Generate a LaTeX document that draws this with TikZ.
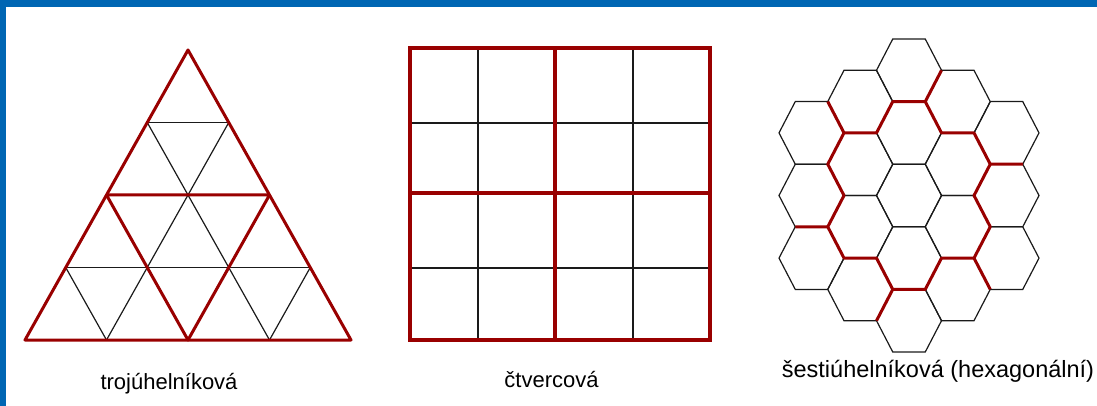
\documentclass[tikz,border=0pt]{standalone}
\usepackage{fontspec}
\setmainfont{Liberation Sans}
\usepackage{tikz}
\usetikzlibrary{calc}
\definecolor{framefill}{HTML}{0066B3}
\definecolor{gridred}{HTML}{990000}
\definecolor{gridblack}{HTML}{1A1A1A}
\tikzset{
    fineline/.style={
        draw=gridblack, line width=1.2pt
    },
    coarseline/.style={
        draw=gridred, line width=#1, line join=round
    },
    coarseline/.default=3pt,
    gridlabel/.style={
        font=\fontsize{22}{26}\selectfont, text=black, anchor=base, inner sep=0pt
    },
}

\begin{document}
\begin{tikzpicture}[x=1pt, y=-1pt]

    \useasboundingbox (0,0) rectangle (1097,406);

    % ── Frame ──
    \fill[framefill] (0,0) rectangle (1097,7);
    \fill[framefill] (0,0) rectangle (6,406);

    % ── Triangular grid ──
    \begin{scope}[shift={(25,340)}, x=40.75pt, y=72.5pt]
        \foreach \k in {1,2,3}
            \draw[fineline] (\k,\k) -- ({8-\k},\k);
        \foreach \i in {0,...,3}
            \draw[fineline] ({2*\i},0) -- ({4+\i},{4-\i});
        \foreach \i in {1,...,4}
            \draw[fineline] ({2*\i},0) -- (\i,\i);
        \draw[coarseline] (0,0) -- (8,0) -- (4,4) -- cycle;
        \draw[coarseline] (2,2) -- (6,2) (2,2) -- (4,0) -- (6,2);
    \end{scope}
    \node[gridlabel] (lbltri) at (169,389) {trojúhelníková};

    % ── Square grid ──
    \foreach \gx in {478,633}
        \draw[fineline] (\gx,48) -- (\gx,340);
    \foreach \gy in {123,268}
        \draw[fineline] (410,\gy) -- (710,\gy);
    \draw[coarseline=4pt] (555,48) -- (555,340) (410,193) -- (710,193);
    \draw[coarseline=4pt, line join=miter] (410,48) rectangle (710,340);
    \node[gridlabel] (lblsq) at (551.5,387) {čtvercová};

    % ── Hexagonal grid ──
    \begin{scope}[shift={(909,195.5)}, x=16.25pt, y=-31.3pt]
        \foreach \q in {-2,...,2}
            \foreach \r in {-2,...,2} {
                \pgfmathtruncatemacro\qr{abs(\q+\r)}
                \ifnum\qr<3
                    \draw[fineline] ({3*\q+2},{2*\r+\q}) -- ++(-1,1) -- ++(-2,0) -- ++(-1,-1) -- ++(1,-1) -- ++(2,0) -- cycle;
                \fi
            }
        \draw[coarseline] (-1,-3) -- (1,-3) -- (2,-2) -- (4,-2) -- (5,-1) -- (4,0) -- (5,1) -- (4,2) -- (2,2) -- (1,3)
            -- (-1,3) -- (-2,2) -- (-4,2) -- (-5,1) -- (-4,0) -- (-5,-1) -- (-4,-2) -- (-2,-2) -- cycle;
        \draw[coarseline] (1,-3) -- (2,-4) (5,-1) -- (7,-1) (4,2) -- (5,3)
            (-1,3) -- (-2,4) (-5,1) -- (-7,1) (-4,-2) -- (-5,-3);
    \end{scope}
    \node[gridlabel, font=\fontsize{23.5}{28}\selectfont] (lblhex) at (938,377) {šestiúhelníková (hexagonální)};

\end{tikzpicture}
\end{document}
